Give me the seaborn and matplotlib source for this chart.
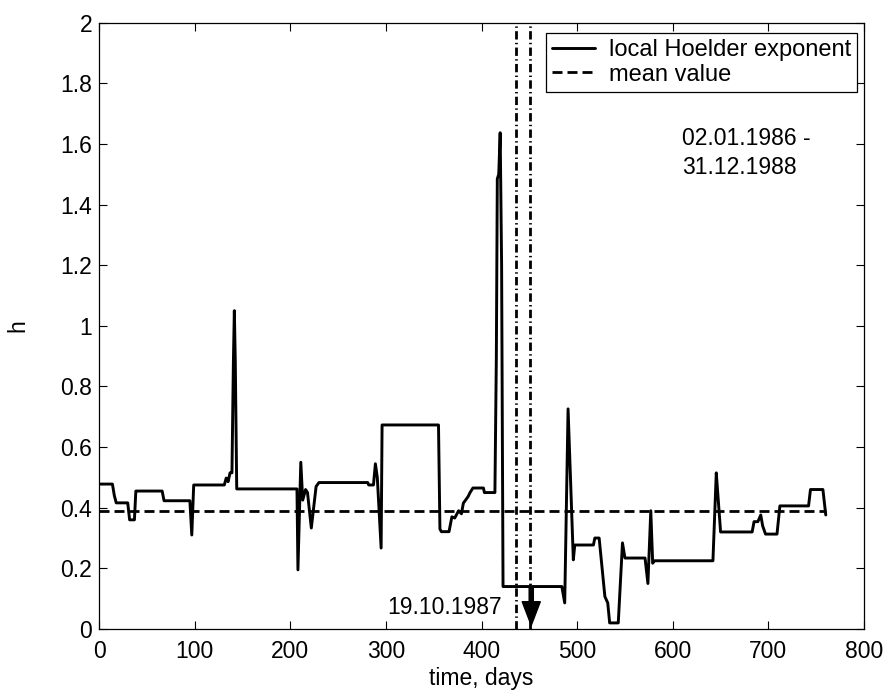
import numpy as np
import pandas as pd
import matplotlib
matplotlib.use("Agg")
import matplotlib.pyplot as plt
from matplotlib.ticker import FormatStrFormatter
import seaborn as sns

# ==========================================================
# Data
# ==========================================================

days = [0, 14, 16, 18, 30, 32, 37, 38.5, 66, 68, 95, 97, 99, 131, 133, 135, 137, 139,
        140.5, 141.5, 142.5, 143.5, 144, 207, 208, 211, 213, 216, 218, 222, 227, 230,
        281, 282, 287, 289, 291, 295, 296, 355, 356.5, 358, 366, 369, 372, 376, 379,
        381, 386, 388, 391, 402, 403, 414, 415.5, 416.5, 418, 419.5, 421, 422.5, 484,
        487, 490.5, 493, 496, 497.5, 517, 518.5, 523, 529, 532, 534, 543, 547.4, 550,
        571, 574, 577, 579, 581, 642, 645.5, 647, 650, 683, 685, 689, 692, 694, 697,
        709, 712, 742, 744, 757, 760]

h = [0.478, 0.478, 0.44, 0.416, 0.416, 0.36, 0.36, 0.455, 0.455, 0.423, 0.423, 0.31,
     0.475, 0.475, 0.498, 0.486, 0.515, 0.515, 0.88, 1.05, 0.88, 0.60, 0.462, 0.462,
     0.195, 0.55, 0.425, 0.46, 0.45, 0.333, 0.47, 0.483, 0.483, 0.475, 0.475, 0.545,
     0.50, 0.267, 0.673, 0.673, 0.33, 0.321, 0.321, 0.37, 0.366, 0.39, 0.38, 0.415,
     0.437, 0.45, 0.465, 0.465, 0.45, 0.45, 0.9, 1.485, 1.50, 1.637, 1.2, 0.14, 0.14,
     0.086, 0.726, 0.5, 0.228, 0.277, 0.277, 0.30, 0.30, 0.107, 0.086, 0.02, 0.02,
     0.284, 0.234, 0.234, 0.15, 0.39, 0.217, 0.225, 0.225, 0.515, 0.45, 0.32, 0.32,
     0.354, 0.354, 0.376, 0.34, 0.313, 0.313, 0.406, 0.406, 0.46, 0.46, 0.376]

mean_h = 0.39
crash_lines = [436, 451]       # days bracketing the crash
crash_day = 452                 # arrow position
crash_label = "19.10.1987"
period_label = "02.01.1986 -\n31.12.1988"

df = pd.DataFrame({"day": days, "h": h})

# ==========================================================
# Style
# ==========================================================

sns.set_style("ticks")
plt.rcParams["font.family"] = ["Liberation Sans", "DejaVu Sans"]
plt.rcParams["font.size"] = 16
plt.rcParams["text.color"] = "black"
plt.rcParams["axes.labelcolor"] = "black"

fig = plt.figure(figsize=(8.89, 6.96), dpi=100)
ax = fig.add_axes([0.1114, 0.0963, 0.8605, 0.8711])

# local Hoelder exponent
sns.lineplot(data=df, x="day", y="h", ax=ax, color="black", linewidth=2.1,
             estimator=None, sort=False, label="local Hoelder exponent")

# mean value
sns.lineplot(x=[days[0], days[-1]], y=[mean_h, mean_h], ax=ax, color="black",
             linewidth=2, linestyle=(0, (3.6, 1.8)), label="mean value")

# crash window lines
for d in crash_lines:
    ax.axvline(d, color="black", linewidth=2, linestyle=(0, (3, 1.2, 0.5, 1.2)))

# arrow marking the crash
ax.annotate("", xy=(crash_day, 0.012), xytext=(crash_day, 0.14),
            arrowprops=dict(facecolor="black", edgecolor="black", width=3,
                            headwidth=13, headlength=17, shrink=0))
ax.text(421, 0.05, crash_label, ha="right", va="baseline", fontsize=16.5, color="black")
ax.text(610, 1.657, period_label, ha="left", va="top", fontsize=16.5,
        linespacing=1.35, color="black")

# ==========================================================
# Axes
# ==========================================================

ax.set_xlim(0, 800)
ax.set_ylim(0, 2)
ax.set_xticks(np.arange(0, 801, 100))
ax.set_yticks(np.arange(0, 2.01, 0.2))
ax.yaxis.set_major_formatter(FormatStrFormatter("%g"))
ax.tick_params(direction="in", top=True, right=True, length=6, width=0.8,
               labelsize=16.5, colors="black")
ax.tick_params(axis="x", pad=8)
ax.tick_params(axis="y", pad=5)
for s in ax.spines.values():
    s.set_visible(True)
    s.set_linewidth(0.9)
    s.set_color("black")

ax.set_xlabel("time, days", fontsize=16.5, labelpad=3)
ax.set_ylabel("h", fontsize=16.5, labelpad=22)

leg = ax.legend(loc="upper right", bbox_to_anchor=(0.991, 0.983), borderaxespad=0,
                fancybox=False, framealpha=1, edgecolor="black", fontsize=17,
                borderpad=0.25, labelspacing=0.12, handlelength=1.8, handletextpad=0.6)
leg.get_frame().set_linewidth(0.9)
for t in leg.get_texts():
    t.set_color("black")

fig.savefig("out.png", dpi=100)
